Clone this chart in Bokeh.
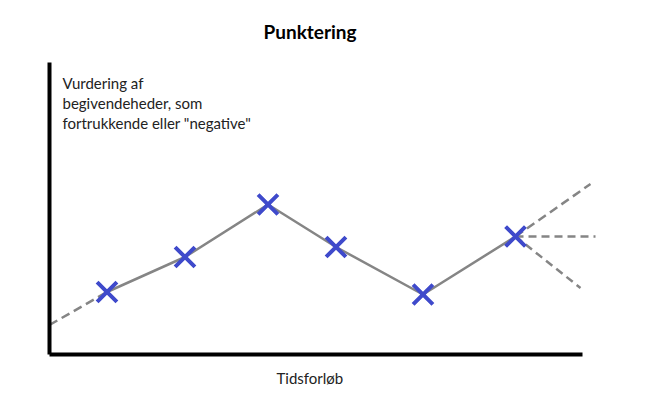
from bokeh.plotting import figure
from bokeh.models import Range1d, Label, FixedTicker, Title
from bokeh.embed import file_html
from bokeh.resources import INLINE

# Data (arbitrary units: time along x, rating along y)
time_points = [11.5, 27.1, 43.7, 57.3, 74.7, 93.2]
ratings = [12.5, 19.5, 30.0, 21.5, 12.0, 23.6]
lead_in_x = [0.0, 11.5]
lead_in_y = [5.9, 12.5]
proj_up_x = [93.2, 108.2]
proj_up_y = [23.6, 34.1]
proj_flat_x = [93.2, 109.2]
proj_flat_y = [23.6, 23.6]
proj_down_x = [93.2, 106.2]
proj_down_y = [23.6, 13.3]

title_text = "Punktering"
x_label = "Tidsforløb"
y_label_lines = ["Vurdering af", "begivendeheder, som", "fortrukkende eller \"negative\""]

FONT = "Lato"

p = figure(frame_width=550, frame_height=292, output_backend="svg", toolbar_location=None,
           x_range=Range1d(0, 110), y_range=Range1d(0, 58.4),
           min_border_left=49, min_border_right=0, min_border_top=62, min_border_bottom=0,
           title=title_text)
p.outline_line_color = None
p.xgrid.visible = False
p.ygrid.visible = False
p.background_fill_color = "white"
p.border_fill_color = "white"

p.title.align = "left"
p.title.offset = 214
p.title.vertical_align = "middle"
p.title.standoff = 37
p.title.text_font = FONT
p.title.text_font_style = "bold"
p.title.text_font_size = "19px"
p.title.text_color = "black"

for ax in (p.xaxis[0], p.yaxis[0]):
    ax.ticker = FixedTicker(ticks=[])
    ax.major_tick_line_color = None
    ax.minor_tick_line_color = None
    ax.major_label_text_color = None
    ax.axis_line_color = "black"
    ax.axis_line_width = 4
p.xaxis[0].bounds = (0, 106.6)

x_title = Title(text=x_label, align="left", offset=227, standoff=24,
                text_font=FONT, text_font_style="normal", text_font_size="15px",
                text_color="#222222")
p.add_layout(x_title, "below")

gray = "#858585"
p.line(lead_in_x, lead_in_y, line_color=gray, line_width=2.5, line_dash="9 5")
p.line(proj_up_x, proj_up_y, line_color=gray, line_width=2.5, line_dash="9 5")
p.line(proj_flat_x, proj_flat_y, line_color=gray, line_width=2.5, line_dash="8 5")
p.line(proj_down_x, proj_down_y, line_color=gray, line_width=2.5, line_dash="8 5")
p.line(time_points, ratings, line_color=gray, line_width=2.5)
p.scatter(time_points, ratings, marker="x", size=28, line_color="#3F4ACB", line_width=4)

for i, line in enumerate(y_label_lines):
    p.add_layout(Label(x=2.6, y=54.4 - 4 * i, text=line, text_align="left", text_baseline="middle",
                       text_font=FONT, text_font_size="15px", text_color="#222222"))

open("out.html", "w").write(file_html(p, INLINE))
